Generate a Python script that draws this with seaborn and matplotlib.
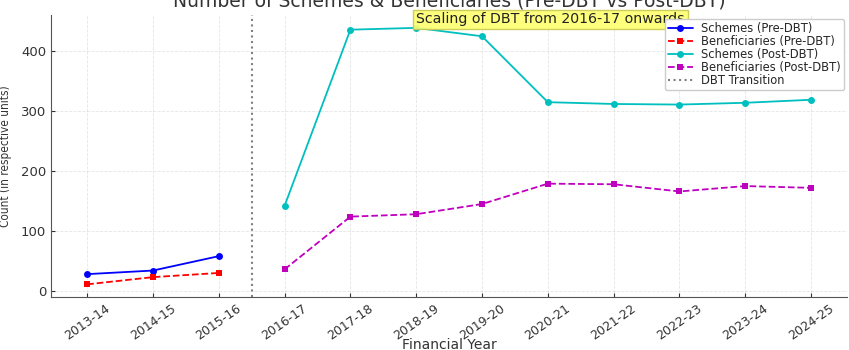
import matplotlib
matplotlib.use("Agg")
import matplotlib.pyplot as plt
import seaborn as sns
import pandas as pd

pre_years = ["2013-14", "2014-15", "2015-16"]
post_years = ["2016-17", "2017-18", "2018-19", "2019-20", "2020-21",
              "2021-22", "2022-23", "2023-24", "2024-25"]
schemes_pre = [28, 34, 58]
benef_pre = [11, 23, 30]
schemes_post = [142, 436, 439, 425, 315, 312, 311, 314, 319]
benef_post = [36, 124, 128, 145, 179, 178, 166, 175, 172]

sns.set_style("ticks")
plt.rcParams['font.family'] = ['DejaVu Sans']

fig = plt.figure(figsize=(8.49, 3.5), dpi=100)
ax = fig.add_axes([0.060, 0.151, 0.938, 0.806])

pre = pd.DataFrame({"year": pre_years, "schemes": schemes_pre, "benef": benef_pre})
post = pd.DataFrame({"year": post_years, "schemes": schemes_post, "benef": benef_post})

sns.lineplot(data=pre, x="year", y="schemes", ax=ax, color="b", marker="o",
             markersize=5, markeredgewidth=0, linewidth=1.3, label="Schemes (Pre-DBT)")
sns.lineplot(data=pre, x="year", y="benef", ax=ax, color="r", marker="s",
             markersize=5, markeredgewidth=0, linewidth=1.3, linestyle="--",
             label="Beneficiaries (Pre-DBT)")
sns.lineplot(data=post, x="year", y="schemes", ax=ax, color="c", marker="o",
             markersize=5, markeredgewidth=0, linewidth=1.3, label="Schemes (Post-DBT)")
sns.lineplot(data=post, x="year", y="benef", ax=ax, color="m", marker="s",
             markersize=5, markeredgewidth=0, linewidth=1.3, linestyle="--",
             label="Beneficiaries (Post-DBT)")
ax.axvline(2.5, color="gray", linestyle=":", linewidth=1.5, label="DBT Transition")

ax.grid(True, linestyle="--", alpha=0.5, linewidth=0.6)
sns.despine(ax=ax)
ax.spines["left"].set_color("#555555")
ax.spines["bottom"].set_color("#555555")
ax.tick_params(axis="both", labelsize=9, colors="#333333", length=3, direction="in")
ax.tick_params(axis="y", labelsize=9.5)
plt.setp(ax.get_xticklabels(), rotation=35, ha="center", rotation_mode="default")

ax.set_title("Number of Schemes & Beneficiaries (Pre-DBT vs Post-DBT)", fontsize=13.5,
             color="#333333")
ax.set_xlabel("Financial Year", fontsize=10, color="#333333", labelpad=-3)
ax.set_ylabel("Count (in respective units)", fontsize=8.5, color="#333333",
              fontstretch="condensed", labelpad=6)

ax.text(5, 453, "Scaling of DBT from 2016-17 onwards", ha="left", va="center",
        fontsize=10.2, color="#222222",
        bbox=dict(boxstyle="square,pad=0.2", facecolor="#ffff70", edgecolor="#c8c850",
                  alpha=0.9))

leg = ax.legend(loc="upper right", fontsize=8.3, borderaxespad=0.3, framealpha=1,
                labelspacing=0.0, borderpad=0.3, handlelength=2.1, handletextpad=0.7)
leg.set_zorder(10)

fig.savefig("out.png", dpi=100)
